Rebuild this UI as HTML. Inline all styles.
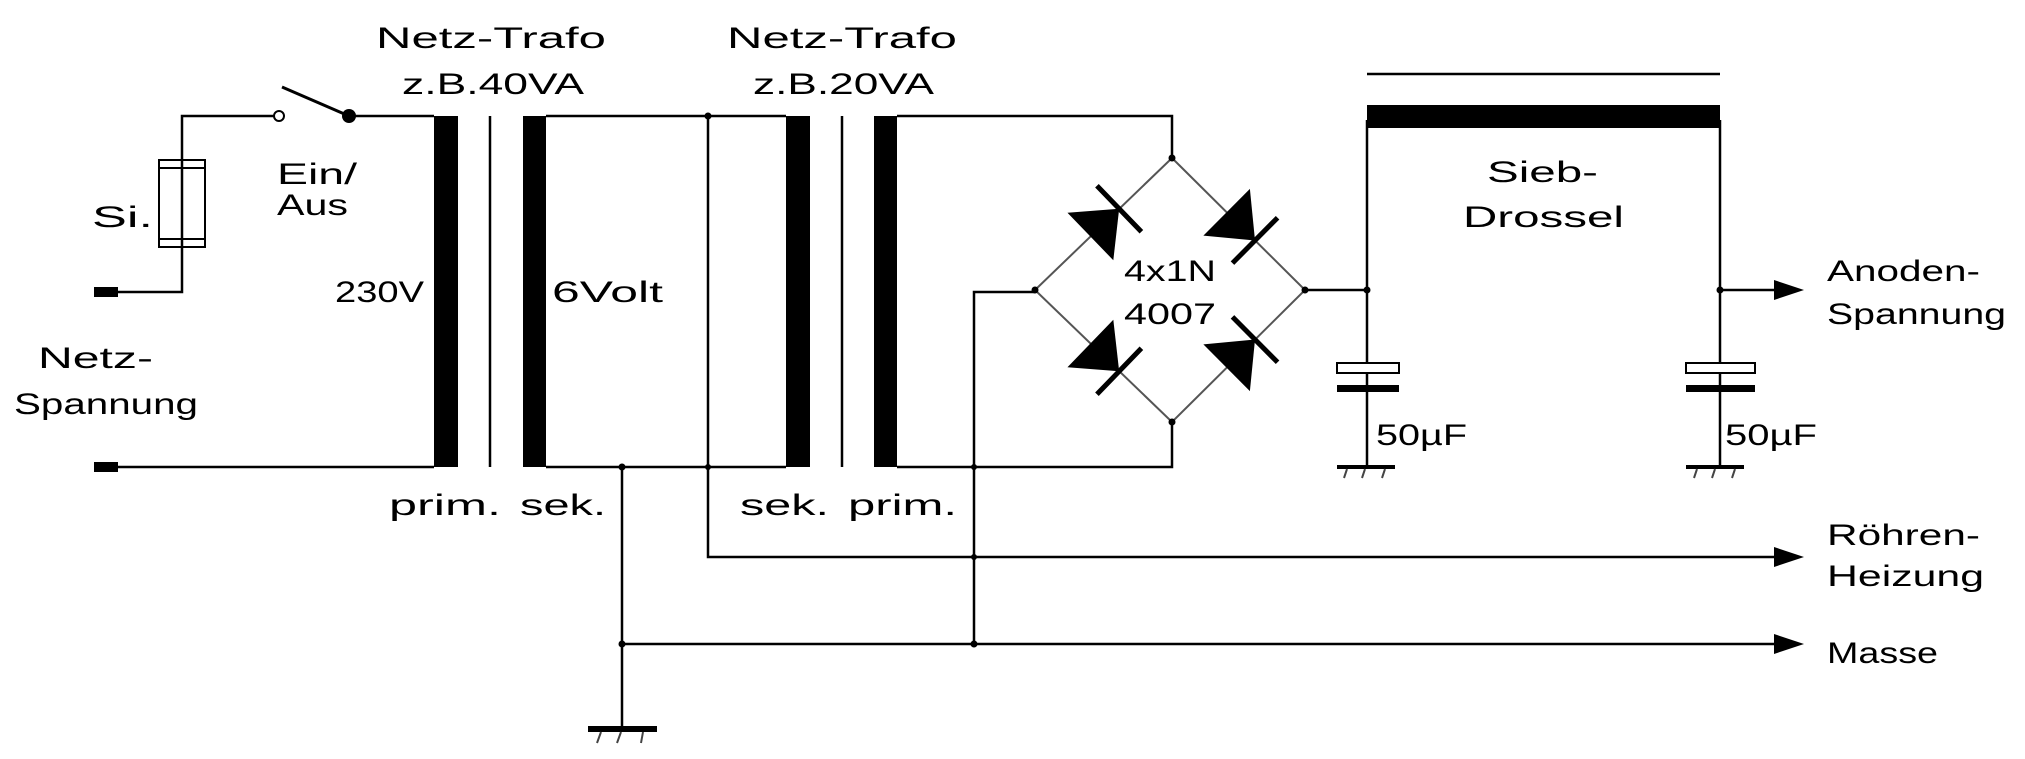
<!DOCTYPE html>
<html><head><meta charset="utf-8"><style>
html,body{margin:0;padding:0;background:#fff;}
svg{display:block;}
text{font-family:"Liberation Sans",sans-serif;font-size:30px;fill:#000;}
</style></head><body>
<svg width="2025" height="759" viewBox="0 0 2025 759" xmlns="http://www.w3.org/2000/svg">
<g stroke="#000" stroke-width="2.5" fill="none">
<!-- mains input -->
<polyline points="118,292 182,292 182,116 274,116"/>
<line x1="118" y1="467" x2="434" y2="467"/>
<line x1="349" y1="116" x2="434" y2="116"/>
<line x1="282" y1="87" x2="349" y2="116" stroke-width="3"/>
<!-- fuse -->
<rect x="159" y="160" width="46" height="87" stroke-width="2"/>
<line x1="159" y1="168" x2="205" y2="168" stroke-width="2"/>
<line x1="159" y1="239" x2="205" y2="239" stroke-width="2"/>
<!-- trafo 1 core -->
<line x1="490" y1="116" x2="490" y2="467"/>
<!-- secondary of trafo 1 -> primary of trafo 2 side -->
<line x1="546" y1="116" x2="786" y2="116"/>
<line x1="546" y1="467" x2="786" y2="467"/>
<line x1="842" y1="116" x2="842" y2="467"/>
<!-- heater/ground lines -->
<polyline points="708,116 708,557 1774,557"/>
<polyline points="622,467 622,729"/>
<line x1="622" y1="644" x2="1774" y2="644"/>
<!-- trafo2 prim to bridge -->
<polyline points="897,116 1172,116 1172,158"/>
<polyline points="897,467 1172,467 1172,422"/>
<polyline points="974,644 974,292 1035,292"/>
<!-- bridge to choke -->
<line x1="1305" y1="290" x2="1367" y2="290"/>
<polyline points="1367,120 1367,467"/>
<polyline points="1720,120 1720,467"/>
<line x1="1720" y1="290" x2="1774" y2="290"/>
<!-- choke top line -->
<line x1="1367" y1="74" x2="1720" y2="74"/>
</g>
<!-- bridge edges -->
<g stroke="#555" stroke-width="2" fill="none">
<polygon points="1172,158 1305,290 1172,422 1035,290"/>
</g>
<!-- diodes -->
<g fill="#000" stroke="#000">
<g transform="translate(1035,290) rotate(-44)"><polygon points="77,-33 77,33 117,0" stroke="none"/><line x1="117" y1="-32" x2="117" y2="32" stroke-width="5"/></g>
<g transform="translate(1172,158) rotate(44.8)"><polygon points="77,-33 77,33 117,0" stroke="none"/><line x1="117" y1="-32" x2="117" y2="32" stroke-width="5"/></g>
<g transform="translate(1035,290) rotate(44)"><polygon points="77,-33 77,33 117,0" stroke="none"/><line x1="117" y1="-32" x2="117" y2="32" stroke-width="5"/></g>
<g transform="translate(1172,422) rotate(-44.8)"><polygon points="77,-33 77,33 117,0" stroke="none"/><line x1="117" y1="-32" x2="117" y2="32" stroke-width="5"/></g>
</g>
<!-- solid shapes -->
<g fill="#000">
<rect x="94" y="287" width="24" height="10"/>
<rect x="94" y="462" width="24" height="10"/>
<rect x="434" y="116" width="24" height="351"/>
<rect x="523" y="116" width="23" height="351"/>
<rect x="786" y="116" width="24" height="351"/>
<rect x="874" y="116" width="23" height="351"/>
<rect x="1367" y="105" width="353" height="23"/>
<circle cx="349" cy="116" r="7"/>
<circle cx="708" cy="116" r="3.5"/>
<circle cx="708" cy="467" r="3"/>
<circle cx="622" cy="467" r="3.5"/>
<circle cx="622" cy="644" r="3.5"/>
<circle cx="974" cy="467" r="3"/>
<circle cx="974" cy="557" r="3"/>
<circle cx="974" cy="644" r="3.5"/>
<circle cx="1172" cy="158" r="3.5"/>
<circle cx="1172" cy="422" r="3.5"/>
<circle cx="1035" cy="290" r="3.5"/>
<circle cx="1305" cy="290" r="3.5"/>
<circle cx="1367" cy="290" r="3.5"/>
<circle cx="1720" cy="290" r="3.5"/>
<!-- ground bars -->
<rect x="588" y="726" width="69" height="6"/>
<rect x="1337" y="465" width="58" height="4"/>
<rect x="1686" y="465" width="58" height="4"/>
<!-- cap plates -->
<rect x="1337" y="385" width="62" height="7"/>
<rect x="1686" y="385" width="69" height="7"/>
<!-- arrowheads -->
<polygon points="1774,280 1804,290 1774,300"/>
<polygon points="1774,547 1804,557 1774,567"/>
<polygon points="1774,634 1804,644 1774,654"/>
</g>
<g stroke="#000" stroke-width="2" fill="#fff">
<circle cx="279" cy="116" r="5"/>
<rect x="1337" y="363" width="62" height="10"/>
<rect x="1686" y="363" width="69" height="10"/>
</g>
<!-- ground hatches -->
<g stroke="#444" stroke-width="2">
<line x1="601" y1="732" x2="597" y2="743"/><line x1="621" y1="732" x2="617" y2="743"/><line x1="643" y1="732" x2="641" y2="743"/>
<line x1="1347" y1="469" x2="1344" y2="478"/><line x1="1365" y1="469" x2="1362" y2="478"/><line x1="1385" y1="469" x2="1382" y2="478"/>
<line x1="1697" y1="469" x2="1694" y2="478"/><line x1="1715" y1="469" x2="1712" y2="478"/><line x1="1735" y1="469" x2="1732" y2="478"/>
</g>
<!-- labels -->
<text x="376" y="48" textLength="230" lengthAdjust="spacingAndGlyphs">Netz-Trafo</text>
<text x="402" y="94" textLength="182" lengthAdjust="spacingAndGlyphs">z.B.40VA</text>
<text x="727" y="48" textLength="230" lengthAdjust="spacingAndGlyphs">Netz-Trafo</text>
<text x="753" y="94" textLength="181" lengthAdjust="spacingAndGlyphs">z.B.20VA</text>
<text x="277" y="184" textLength="80" lengthAdjust="spacingAndGlyphs">Ein/</text>
<text x="277" y="215" textLength="71" lengthAdjust="spacingAndGlyphs">Aus</text>
<text x="92" y="227" textLength="61" lengthAdjust="spacingAndGlyphs">Si.</text>
<text x="335" y="302" textLength="89" lengthAdjust="spacingAndGlyphs">230V</text>
<text x="552" y="302" textLength="111" lengthAdjust="spacingAndGlyphs">6Volt</text>
<text x="38" y="368" textLength="115" lengthAdjust="spacingAndGlyphs">Netz-</text>
<text x="14" y="414" textLength="184" lengthAdjust="spacingAndGlyphs">Spannung</text>
<text x="389" y="515" textLength="112" lengthAdjust="spacingAndGlyphs">prim.</text>
<text x="520" y="515" textLength="86" lengthAdjust="spacingAndGlyphs">sek.</text>
<text x="740" y="515" textLength="89" lengthAdjust="spacingAndGlyphs">sek.</text>
<text x="848" y="515" textLength="109" lengthAdjust="spacingAndGlyphs">prim.</text>
<text x="1124" y="281" textLength="92" lengthAdjust="spacingAndGlyphs">4x1N</text>
<text x="1124" y="324" textLength="92" lengthAdjust="spacingAndGlyphs">4007</text>
<text x="1487" y="182" textLength="111" lengthAdjust="spacingAndGlyphs">Sieb-</text>
<text x="1463" y="227" textLength="161" lengthAdjust="spacingAndGlyphs">Drossel</text>
<text x="1376" y="445" textLength="91" lengthAdjust="spacingAndGlyphs">50µF</text>
<text x="1725" y="445" textLength="92" lengthAdjust="spacingAndGlyphs">50µF</text>
<text x="1827" y="281" textLength="153" lengthAdjust="spacingAndGlyphs">Anoden-</text>
<text x="1827" y="324" textLength="179" lengthAdjust="spacingAndGlyphs">Spannung</text>
<text x="1827" y="545" textLength="153" lengthAdjust="spacingAndGlyphs">Röhren-</text>
<text x="1827" y="586" textLength="157" lengthAdjust="spacingAndGlyphs">Heizung</text>
<text x="1827" y="663" textLength="111" lengthAdjust="spacingAndGlyphs">Masse</text>
</svg>
</body></html>
